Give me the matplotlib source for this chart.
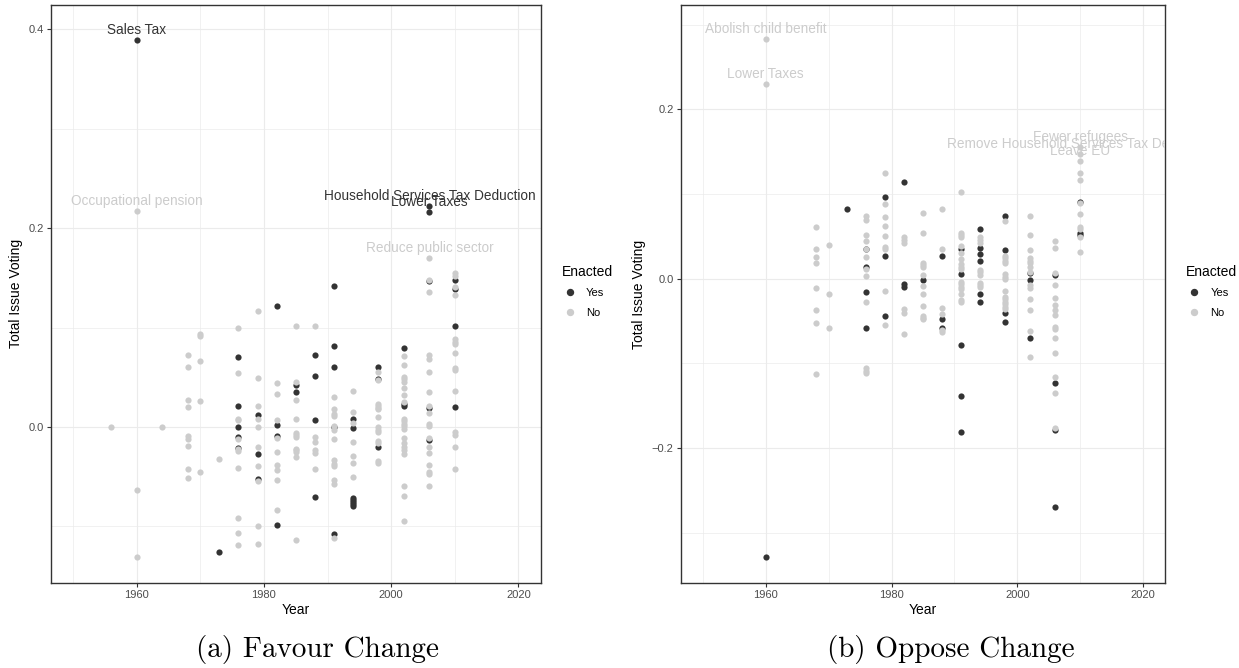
import matplotlib
matplotlib.use('Agg')
import matplotlib.pyplot as plt
from matplotlib.lines import Line2D
from matplotlib.transforms import ScaledTranslation

plt.rcParams['font.family'] = ['Liberation Sans', 'DejaVu Sans']

DARK = '#333333'
LIGHT = '#CCCCCC'

# (a) Favour Change: issue voting per election year, split by enacted
favour_yes = {
    1960: [0.389],
    1973: [-0.126],
    1976: [0.0705, 0.0208, 0.0, -0.010, -0.021],
    1979: [0.012, -0.027, -0.052],
    1982: [0.1218, 0.002, -0.0087, -0.099],
    1985: [0.0423, 0.035],
    1988: [0.0725, 0.051, 0.0074, -0.0708],
    1991: [0.1415, 0.0812, 0.060, 0.0, -0.1077],
    1994: [0.008, -0.0013, -0.0718, -0.0738, -0.0758, -0.0778, -0.0798],
    1998: [0.0604, 0.0487, -0.0201],
    2002: [0.0795, 0.0228, 0.0208],
    2006: [0.2225, 0.2161, 0.1473, 0.0195, -0.0127],
    2010: [0.1477, 0.139, 0.1017, 0.0198],
}
favour_no = {
    1956: [0.0],
    1960: [0.217, -0.063, -0.131],
    1964: [0.0],
    1968: [0.0725, 0.060, 0.027, 0.0198, -0.0087, -0.0124, -0.019, -0.042, -0.051],
    1970: [0.094, 0.091, 0.0664, 0.0265, -0.045],
    1973: [-0.032],
    1976: [0.100, 0.054, 0.0085, 0.0067, -0.0117, -0.022, -0.024, -0.0416, -0.092, -0.107, -0.119],
    1979: [0.117, 0.049, 0.021, 0.0085, 0.0, -0.020, -0.039, -0.0547, -0.0996, -0.118],
    1982: [0.0447, 0.0332, 0.0074, -0.0107, -0.0255, -0.0386, -0.0436, -0.053, -0.0839],
    1985: [0.102, 0.0453, 0.0276, 0.008, -0.0057, -0.008, -0.010, -0.022, -0.0235, -0.025, -0.0305, -0.114],
    1988: [0.1013, -0.010, -0.015, -0.0235, -0.026, -0.042],
    1991: [0.030, 0.0178, 0.013, 0.0106, 0.0007, -0.0033, -0.0124, -0.033, -0.037, -0.039,
           -0.0536, -0.0577, -0.1114],
    1994: [0.0366, 0.0151, 0.004, -0.0151, -0.0295, -0.0359, -0.0503],
    1998: [0.055, 0.0477, 0.0235, 0.0211, 0.0195, 0.0178, 0.0104, 0.0, -0.0027, -0.0054,
           -0.0141, -0.0158, -0.034, -0.0366],
    2002: [0.0715, 0.0621, 0.0507, 0.048, 0.0457, 0.0393, 0.0322, 0.0255, 0.0084, 0.006,
           0.0034, 0.0007, -0.002, -0.0114, -0.0158, -0.0198, -0.0232, -0.0275, -0.059,
           -0.0697, -0.0946],
    2006: [0.170, 0.1483, 0.1356, 0.0722, 0.0688, 0.055, 0.0352, 0.0208, 0.0141, 0.0034,
           0.0007, -0.0107, -0.0198, -0.0265, -0.0386, -0.0453, -0.0477, -0.059],
    2010: [0.155, 0.152, 0.1403, 0.133, 0.088, 0.0856, 0.0833, 0.0749, 0.0594, 0.0571,
           0.0362, -0.005, -0.0084, -0.0201, -0.0426],
}
favour_labels = [
    ('Sales Tax', 1960, 0.389, DARK),
    ('Occupational pension', 1960, 0.217, LIGHT),
    ('Household Services Tax Deduction', 2006, 0.2225, DARK),
    ('Lower Taxes', 2006, 0.2161, DARK),
    ('Reduce public sector', 2006, 0.170, LIGHT),
]

# (b) Oppose Change
oppose_yes = {
    1960: [-0.3287],
    1973: [0.0827],
    1976: [0.0355, 0.0134, -0.0153, -0.0579],
    1979: [0.0969, 0.0272, -0.0445],
    1982: [0.1146, -0.0059, -0.0094],
    1985: [-0.0019],
    1988: [0.0264, -0.048, -0.0578],
    1991: [0.0354, 0.0055, -0.0783, -0.1382, -0.1814],
    1994: [0.0587, 0.0363, 0.0295, 0.0209, -0.0177, -0.0272],
    1998: [0.0744, 0.0335, -0.0409, -0.0515],
    2002: [0.0063, -0.0016, -0.070],
    2006: [0.0044, -0.1232, -0.179, -0.2693],
    2010: [0.0902, 0.0543, 0.052],
}
oppose_no = {
    1960: [0.2831, 0.2296],
    1968: [0.0607, 0.0347, 0.0253, 0.0182, -0.011, -0.037, -0.052, -0.1122],
    1970: [0.0394, -0.0177, -0.0579],
    1976: [0.074, 0.0693, 0.0512, 0.0442, 0.035, 0.0253, 0.011, 0.0032, -0.0272, -0.1059,
           -0.1086, -0.1114],
    1979: [0.125, 0.0882, 0.0733, 0.0626, 0.0508, 0.0378, 0.0347, -0.0145, -0.0543],
    1982: [0.0493, 0.0457, 0.0418, -0.0362, -0.0402, -0.0653],
    1985: [0.0772, 0.0536, 0.0185, 0.0162, 0.0142, 0.0047, -0.0086, -0.0177, -0.0322,
           -0.0437, -0.046, -0.0476],
    1988: [0.082, 0.0354, -0.0342, -0.042, -0.0605, -0.0633],
    1991: [0.102, 0.0543, 0.0516, 0.0489, 0.0383, 0.030, 0.0233, 0.0174, 0.0142, 0.0111,
           -0.0035, -0.0063, -0.0094, -0.0125, -0.018, -0.0252, -0.028],
    1994: [0.0496, 0.0457, 0.0425, 0.0103, 0.0075, 0.0047, -0.0047, -0.0075, -0.0102],
    1998: [0.068, 0.0268, 0.0241, 0.0213, 0.019, 0.0052, 0.0024, -0.0007, -0.0145, -0.0213,
           -0.0244, -0.0272, -0.03, -0.033, -0.036],
    2002: [0.074, 0.0512, 0.0339, 0.024, 0.0209, 0.0181, 0.0142, 0.0083, -0.0075, -0.0114,
           -0.024, -0.037, -0.062, -0.0929],
    2006: [0.0449, 0.0362, 0.0063, -0.0074, -0.0232, -0.031, -0.037, -0.0429, -0.0574,
           -0.059, -0.0704, -0.0881, -0.1165, -0.1354, -0.1767],
    2010: [0.156, 0.147, 0.1386, 0.1245, 0.1166, 0.089, 0.076, 0.0614, 0.0583, 0.0489,
           0.0319],
}
oppose_labels = [
    ('Abolish child benefit', 1960, 0.2831, LIGHT),
    ('Lower Taxes', 1960, 0.2296, LIGHT),
    ('Fewer refugees', 2010, 0.156, LIGHT),
    ('Remove Household Services Tax Deduction', 2010, 0.147, LIGHT),
    ('Leave EU', 2010, 0.1386, LIGHT),
]


def flatten(d):
    xs, ys = [], []
    for year, vals in d.items():
        xs += [year] * len(vals)
        ys += vals
    return xs, ys


def draw_panel(fig, ax, yes, no, labels, ylim, yticks, yminor, legend_x):
    x, y = flatten(yes)
    ax.scatter(x, y, s=20, color=DARK, linewidths=0, zorder=3)
    x, y = flatten(no)
    ax.scatter(x, y, s=20, color=LIGHT, linewidths=0, zorder=3)

    up = ScaledTranslation(0, 10 / 100, fig.dpi_scale_trans)
    for text, lx, ly, col in labels:
        ax.text(lx, ly, text, color=col, fontsize=9.8, ha='center', va='center',
                transform=ax.transData + up, clip_on=True, zorder=4)

    ax.set_xlim(1946.5, 2023.5)
    ax.set_ylim(*ylim)
    ax.set_xticks([1960, 1980, 2000, 2020])
    ax.set_xticks([1950, 1970, 1990, 2010], minor=True)
    ax.set_yticks(yticks)
    ax.set_yticklabels(['%.1f' % v if v >= 0 else '\u2212%.1f' % -v for v in yticks])
    ax.set_yticks(yminor, minor=True)
    ax.grid(which='major', color='#EBEBEB', linewidth=0.8)
    ax.grid(which='minor', color='#EBEBEB', linewidth=0.5)
    ax.set_axisbelow(True)
    ax.tick_params(which='major', length=3, width=0.8, color=DARK, labelsize=8,
                   labelcolor='#4D4D4D', pad=2)
    ax.tick_params(which='minor', length=0)
    for sp in ax.spines.values():
        sp.set_color(DARK)
        sp.set_linewidth(1.0)
    ax.set_xlabel('Year', fontsize=10, labelpad=2)
    ax.set_ylabel('Total Issue Voting', fontsize=10, labelpad=4)

    handles = [Line2D([], [], marker='o', linestyle='', color=DARK, markersize=4.3),
               Line2D([], [], marker='o', linestyle='', color=LIGHT, markersize=4.3)]
    fig.legend(handles, ['Yes', 'No'], title='Enacted', loc='center left',
               bbox_to_anchor=(legend_x, 0.564), frameon=False, fontsize=8,
               title_fontsize=10, alignment='left', handlelength=1.5,
               handletextpad=0.7, labelspacing=0.85, borderpad=0.2)


fig = plt.figure(figsize=(12.39, 6.68), dpi=100)
ax_a = fig.add_axes([0.0409, 0.1272, 0.3955, 0.8658])
ax_b = fig.add_axes([0.5494, 0.1268, 0.3911, 0.8662])

draw_panel(fig, ax_a, favour_yes, favour_no, favour_labels, (-0.157, 0.4248),
           [0.0, 0.2, 0.4], [-0.1, 0.1, 0.3], 0.447)
draw_panel(fig, ax_b, oppose_yes, oppose_no, oppose_labels, (-0.3598, 0.3235),
           [-0.2, 0.0, 0.2], [-0.3, -0.1, 0.1, 0.3], 0.951)

fig.text(318 / 1239, 1 - 650 / 668, '(a) Favour Change', family='cmr10', fontsize=21,
         ha='center', va='center')
fig.text(951 / 1239, 1 - 650 / 668, '(b) Oppose Change', family='cmr10', fontsize=21,
         ha='center', va='center')

fig.savefig('out.png', dpi=100)
